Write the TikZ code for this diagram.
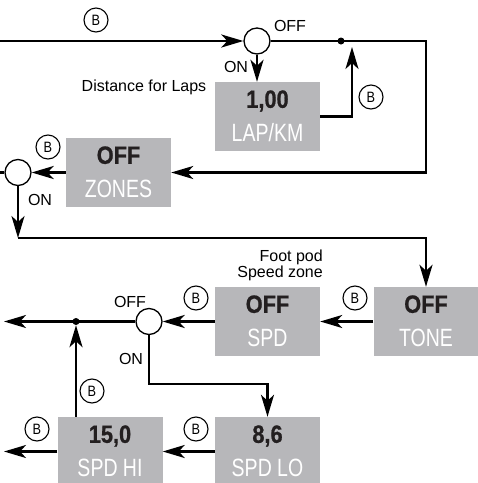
\documentclass[tikz,border=0pt]{standalone}
\usepackage{fontspec}
\setmainfont{Liberation Sans}
\newfontfamily\valfont[FakeStretch=0.87, BoldFeatures={FakeBold=0.8}]{Liberation Sans}
\newfontfamily\unitfont[FakeStretch=0.78]{Liberation Sans}
\newfontfamily\keyfont[FakeStretch=0.85]{Liberation Sans}
\usetikzlibrary{arrows.meta}
\definecolor{dispgray}{RGB}{183,183,186}
\definecolor{valblack}{RGB}{35,31,32}

\begin{document}
\begin{tikzpicture}[x=1pt, y=-1pt,
    line/.style={line width=2.5pt},
    flow/.style={line, -{Stealth[length=22pt,width=13pt,inset=6pt]}},
    sw/.style={circle, draw, line width=1.3pt, fill=white, minimum size=26pt, inner sep=0pt},
    bkey/.style={circle, draw, line width=1.1pt, minimum size=24pt, inner sep=0pt, font=\fontsize{15}{15}\keyfont},
    disp/.style={fill=dispgray, minimum width=105pt, minimum height=69pt, inner sep=0pt},
    val/.style={anchor=base, inner sep=0pt, text=valblack, font=\fontsize{25}{25}\valfont\bfseries},
    unit/.style={anchor=base, inner sep=0pt, text=white, font=\fontsize{25}{25}\unitfont},
    lbl/.style={inner sep=0pt, font=\fontsize{16}{16}\selectfont},
    dot/.style={circle, fill, minimum size=7pt, inner sep=0pt}]
    \useasboundingbox (0,0) rectangle (478,483);

    % switches and junctions
    \node[sw] (sw1) at (257,41) {};
    \node[sw] (sw2) at (18,172.5) {};
    \node[sw] (sw3) at (149,321.5) {};
    \node[dot] (j1) at (341,41) {};
    \node[dot] (j2) at (76,321.5) {};
    \coordinate (in1) at (0,41);
    \coordinate (in2) at (0,172.5);
    \coordinate (tr) at (426,41);
    \coordinate (lapret) at (352,47);
    \coordinate (bend) at (18,238);
    \coordinate (lobend) at (149,384);
    \coordinate (out1) at (4,321.5);
    \coordinate (out2) at (4,451.5);

    % displays
    \node[disp] (lap) at (267.5,116.5) {};
    \node[val] (lapv) at ([yshift=-26pt]lap.north) {1,00};
    \node[unit] (lapu) at ([yshift=-60pt]lap.north) {LAP/KM};
    \node[disp] (zones) at (118.5,172.5) {};
    \node[val] (zonesv) at ([yshift=-26pt]zones.north) {OFF};
    \node[unit] (zonesu) at ([yshift=-60pt]zones.north) {ZONES};
    \node[disp] (tone) at (426,321.5) {};
    \node[val] (tonev) at ([yshift=-26pt]tone.north) {OFF};
    \node[unit] (toneu) at ([yshift=-60pt]tone.north) {TONE};
    \node[disp] (spd) at (267.5,321.5) {};
    \node[val] (spdv) at ([yshift=-26pt]spd.north) {OFF};
    \node[unit] (spdu) at ([yshift=-60pt]spd.north) {SPD};
    \node[disp] (spdlo) at (267.5,451.5) {};
    \node[val] (spdlov) at ([yshift=-26pt]spdlo.north) {8,6};
    \node[unit] (spdlou) at ([yshift=-60pt]spdlo.north) {SPD LO};
    \node[disp] (spdhi) at (110,451.5) {};
    \node[val] (spdhiv) at ([yshift=-26pt]spdhi.north) {15,0};
    \node[unit] (spdhiu) at ([yshift=-60pt]spdhi.north) {SPD HI};

    % connectors
    \draw[flow] (in1) -- (sw1);
    \draw[flow] (sw1) -- (sw1.south |- lap.north);
    \draw[flow] (sw1) -- (j1.center) -- (tr) |- (zones);
    \draw[flow] (lap.east) -| (lapret);
    \draw[flow] (zones) -- (sw2);
    \draw[line] (in2) -- (sw2);
    \draw[flow] (sw2) -- (bend);
    \draw[flow] (bend) -| (tone);
    \draw[flow] (tone) -- (spd);
    \draw[flow] (spd) -- (sw3);
    \draw[flow] (sw3) -- (j2.center) -- (out1);
    \draw[flow] (sw3) -- (lobend) -| (spdlo);
    \draw[flow] (spdlo) -- (spdhi);
    \draw[flow] (spdhi) -- (out2);
    \draw[flow] (spdhi.north -| j2) -- (j2);

    % button keys
    \node[bkey] (b1) at (96,20) {B};
    \node[bkey] (b2) at (371,97) {B};
    \node[bkey] (b3) at (48,147) {B};
    \node[bkey] (b4) at (355,298) {B};
    \node[bkey] (b5) at (196,298) {B};
    \node[bkey] (b6) at (196,429) {B};
    \node[bkey] (b7) at (37,429) {B};
    \node[bkey] (b8) at (92,391) {B};

    % labels
    \node[lbl] (off1) at (290,26) {OFF};
    \node[lbl] (on1) at (236,67) {ON};
    \node[lbl] (distlbl) at (144,87) {Distance for Laps};
    \node[lbl] (on2) at (40,200) {ON};
    \node[lbl, align=right, anchor=east] (footlbl) at (323,265) {Foot pod\\Speed zone};
    \node[lbl] (off2) at (130,302) {OFF};
    \node[lbl] (on3) at (131,359) {ON};
\end{tikzpicture}
\end{document}
